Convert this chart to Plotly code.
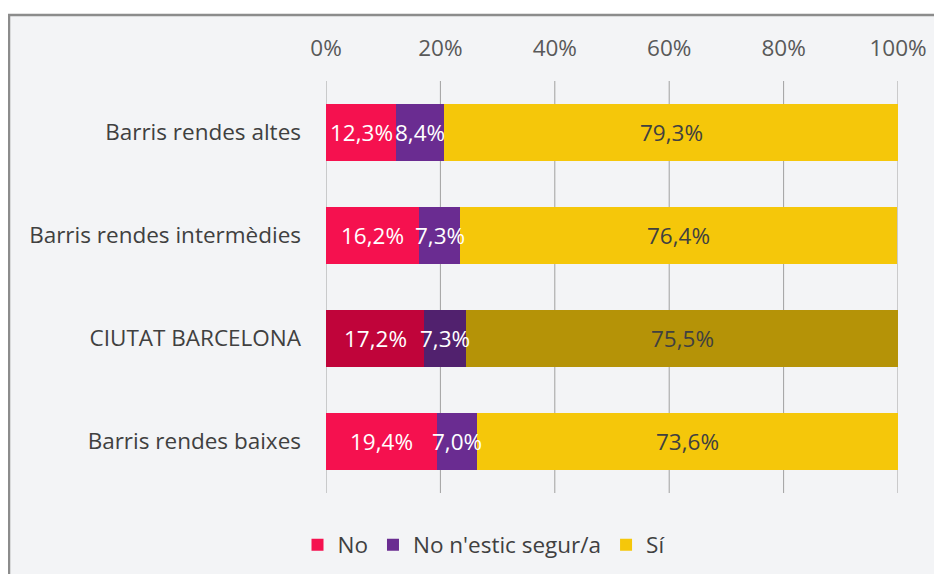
import plotly.graph_objects as go

categories = ["Barris rendes altes", "Barris rendes intermèdies", "CIUTAT BARCELONA", "Barris rendes baixes"]
series_names = ["No", "No n'estic segur/a", "Sí"]
no_vals = [12.3, 16.2, 17.2, 19.4]
unsure_vals = [8.4, 7.3, 7.3, 7.0]
si_vals = [79.3, 76.4, 75.5, 73.6]
tick_vals = [0, 20, 40, 60, 80, 100]
tick_text = ["0%", "20%", "40%", "60%", "80%", "100%"]

base_colors = ["#F5114F", "#6A2C91", "#F5C70A"]
city_colors = ["#C0043A", "#51216E", "#B59307"]
label_colors = ["white", "white", "#404040"]

FONT = "Open Sans"
FS = 22.5

fig = go.Figure()
all_vals = [no_vals, unsure_vals, si_vals]
for i, (name, vals) in enumerate(zip(series_names, all_vals)):
    cols = [city_colors[i] if c == "CIUTAT BARCELONA" else base_colors[i] for c in categories]
    fig.add_trace(go.Bar(
        name=name, y=categories, x=vals, orientation="h",
        marker=dict(color=cols, line=dict(width=0)),
        textposition="none", hoverinfo="x+y",
    ))

# Data labels centred on each segment
for j, cat in enumerate(categories):
    start = 0.0
    for i, vals in enumerate(all_vals):
        v = vals[j]
        fig.add_annotation(
            x=start + v / 2, y=cat, xref="x", yref="y",
            text=f"{v:.1f}%".replace(".", ","), showarrow=False,
            font=dict(family=FONT, size=FS, color=label_colors[i]),
        )
        start += v

# page body has an 8px offset
OFF = 8
W, H = 942, 574
L, T = 326 - OFF, 81 - OFF
R = W - (898 - OFF)
B = H - (493 - OFF)
pw, ph = W - L - R, H - T - B
plot_left_px = L + OFF
plot_bottom_px = OFF + H - B
fx0 = (9 - plot_left_px) / pw
fy1 = (plot_bottom_px - 15) / ph
fig.add_shape(type="rect", xref="paper", yref="paper",
              x0=fx0, x1=1.5, y0=-0.5, y1=fy1,
              fillcolor="#F3F4F6", line=dict(color="#8C8C8C", width=2.5),
              layer="below")

# vertical gridlines at every tick (including the 0% and 100% edges)
for t in tick_vals:
    fig.add_shape(type="line", xref="x", yref="paper", x0=t, x1=t, y0=0, y1=1,
                  line=dict(color="#A0A0A0", width=1), layer="below")

fig.update_layout(
    width=W, height=H,
    margin=dict(l=L, r=R, t=T, b=B),
    barmode="stack", bargap=0.44,
    paper_bgcolor="white", plot_bgcolor="rgba(0,0,0,0)",
    font=dict(family=FONT, size=FS, color="#404040"),
    showlegend=True,
    legend=dict(orientation="h", x=(484 - plot_left_px) / pw, xanchor="center",
                y=-(545 - plot_bottom_px) / ph,
                yanchor="middle", font=dict(family=FONT, size=FS, color="#404040"),
                bgcolor="rgba(0,0,0,0)", itemclick=False, traceorder="normal"),
    xaxis=dict(side="top", range=[0, 100], tickvals=tick_vals, ticktext=tick_text,
               showgrid=False, zeroline=False,
               showline=False, ticks="", tickfont=dict(color="#595959", size=FS, family=FONT),
               ticklabelstandoff=20, fixedrange=True),
    yaxis=dict(categoryorder="array", categoryarray=categories, autorange="reversed",
               showgrid=False, zeroline=False, showline=False, ticks="",
               tickfont=dict(color="#404040", size=FS, family=FONT),
               ticklabelstandoff=24, fixedrange=True),
)

fig.write_html("out.html")
